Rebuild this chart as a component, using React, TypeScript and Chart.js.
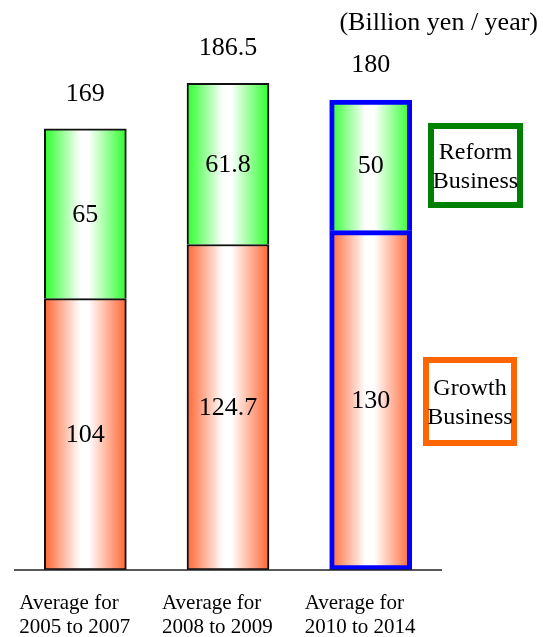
import React, { useEffect, useRef } from "react";
import { Chart, registerables } from "chart.js";

Chart.register(...registerables);

// Period labels (two lines each)
const categories: string[][] = [
  ["Average for", "2005 to 2007"],
  ["Average for", "2008 to 2009"],
  ["Average for", "2010 to 2014"],
];
// Billion yen per year
const growthValues = [104, 124.7, 130];
const reformValues = [65, 61.8, 50];
const totalValues = [169, 186.5, 180];
const growthName = ["Growth", "Business"];
const reformName = ["Reform", "Business"];
const unitLabel = "(Billion yen / year)";

const W = 543;
const H = 637;
const BAR_W = 82;
const SERIF = '"Liberation Serif", "Times New Roman", serif';

const GREEN_EDGE = "#2cff2c";
const ORANGE_EDGE = "#ff6633";

function barFill(edge: string) {
  return (ctx: any) => {
    const chart = ctx.chart;
    const xs = chart && chart.scales ? chart.scales.x : null;
    if (!xs || ctx.dataIndex == null) return edge;
    const cx = xs.getPixelForValue(ctx.dataIndex);
    if (!Number.isFinite(cx)) return edge;
    const g = chart.ctx.createLinearGradient(cx - BAR_W / 2, 0, cx + BAR_W / 2, 0);
    g.addColorStop(0, edge);
    g.addColorStop(0.44, "#ffffff");
    g.addColorStop(0.54, "#ffffff");
    g.addColorStop(1, edge);
    return g;
  };
}

const barBorders = ["#111111", "#111111", "#0000ff"];
const barBorderWidths = [2, 2, 5];

const annotations = {
  id: "annotations",
  afterDatasetsDraw(chart: any) {
    const { ctx, chartArea, scales } = chart;
    ctx.save();

    // Values inside each segment
    ctx.fillStyle = "#000";
    ctx.textAlign = "center";
    ctx.textBaseline = "middle";
    ctx.font = `26px ${SERIF}`;
    chart.data.datasets.forEach((ds: any, di: number) => {
      const meta = chart.getDatasetMeta(di);
      meta.data.forEach((bar: any, i: number) => {
        const v = ds.data[i];
        ctx.fillText(String(v), bar.x, (bar.y + bar.base) / 2 + 1);
      });
    });

    // Totals above the stacks
    const top = chart.getDatasetMeta(1);
    top.data.forEach((bar: any, i: number) => {
      const yTop = scales.y.getPixelForValue(totalValues[i]);
      ctx.fillText(String(totalValues[i]), bar.x, yTop - 35);
    });

    // Baseline
    ctx.strokeStyle = "#222";
    ctx.lineWidth = 1.5;
    ctx.beginPath();
    ctx.moveTo(chartArea.left, chartArea.bottom);
    ctx.lineTo(chartArea.right, chartArea.bottom);
    ctx.stroke();

    // Category labels, left-aligned under each bar
    ctx.textAlign = "left";
    ctx.font = `21px ${SERIF}`;
    categories.forEach((lines, i) => {
      const cx = scales.x.getPixelForValue(i);
      lines.forEach((t, li) => {
        ctx.fillText(t, cx - 66, 603 + li * 24);
      });
    });

    // Unit label
    ctx.textAlign = "right";
    ctx.font = `26px ${SERIF}`;
    ctx.fillText(unitLabel, 538, 23);

    // Series boxes
    const boxes = [
      { x: 428, y: 123, w: 95, h: 85, color: "#008000", lines: reformName, y0: 153 },
      { x: 423, y: 357, w: 94, h: 89, color: "#ff6600", lines: growthName, y0: 389 },
    ];
    boxes.forEach((b) => {
      ctx.strokeStyle = b.color;
      ctx.lineWidth = 6;
      ctx.strokeRect(b.x + 3, b.y + 3, b.w - 6, b.h - 6);
      ctx.fillStyle = "#000";
      ctx.textAlign = "center";
      ctx.font = `24px ${SERIF}`;
      b.lines.forEach((t, li) => {
        ctx.fillText(t, b.x + b.w / 2, b.y0 + li * 29);
      });
    });

    ctx.restore();
  },
};

export default function App() {
  const ref = useRef<HTMLCanvasElement | null>(null);

  useEffect(() => {
    if (!ref.current) return;
    const chart = new Chart(ref.current, {
      type: "bar",
      data: {
        labels: categories.map((c) => c.join(" ")),
        datasets: [
          {
            label: growthName.join(" "),
            data: growthValues,
            backgroundColor: barFill(ORANGE_EDGE),
            borderColor: barBorders,
            borderWidth: barBorderWidths,
            borderSkipped: false,
            barThickness: BAR_W,
          },
          {
            label: reformName.join(" "),
            data: reformValues,
            backgroundColor: barFill(GREEN_EDGE),
            borderColor: barBorders,
            borderWidth: barBorderWidths,
            borderSkipped: "start",
            barThickness: BAR_W,
          },
        ],
      },
      options: {
        animation: false,
        responsive: false,
        devicePixelRatio: 1,
        layout: { padding: { left: 14, right: 101, top: 48, bottom: 67 } },
        plugins: {
          legend: { display: false },
          tooltip: { enabled: false },
          title: { display: false },
        },
        scales: {
          x: { stacked: true, display: false },
          y: { stacked: true, display: false, min: 0, max: 200 },
        },
      },
      plugins: [annotations],
    });
    return () => chart.destroy();
  }, []);

  return (
    <div style={{ position: "fixed", left: 0, top: 0, width: W, height: H, background: "#fff" }}>
      <canvas ref={ref} width={W} height={H} style={{ display: "block", width: W, height: H }} />
    </div>
  );
}
